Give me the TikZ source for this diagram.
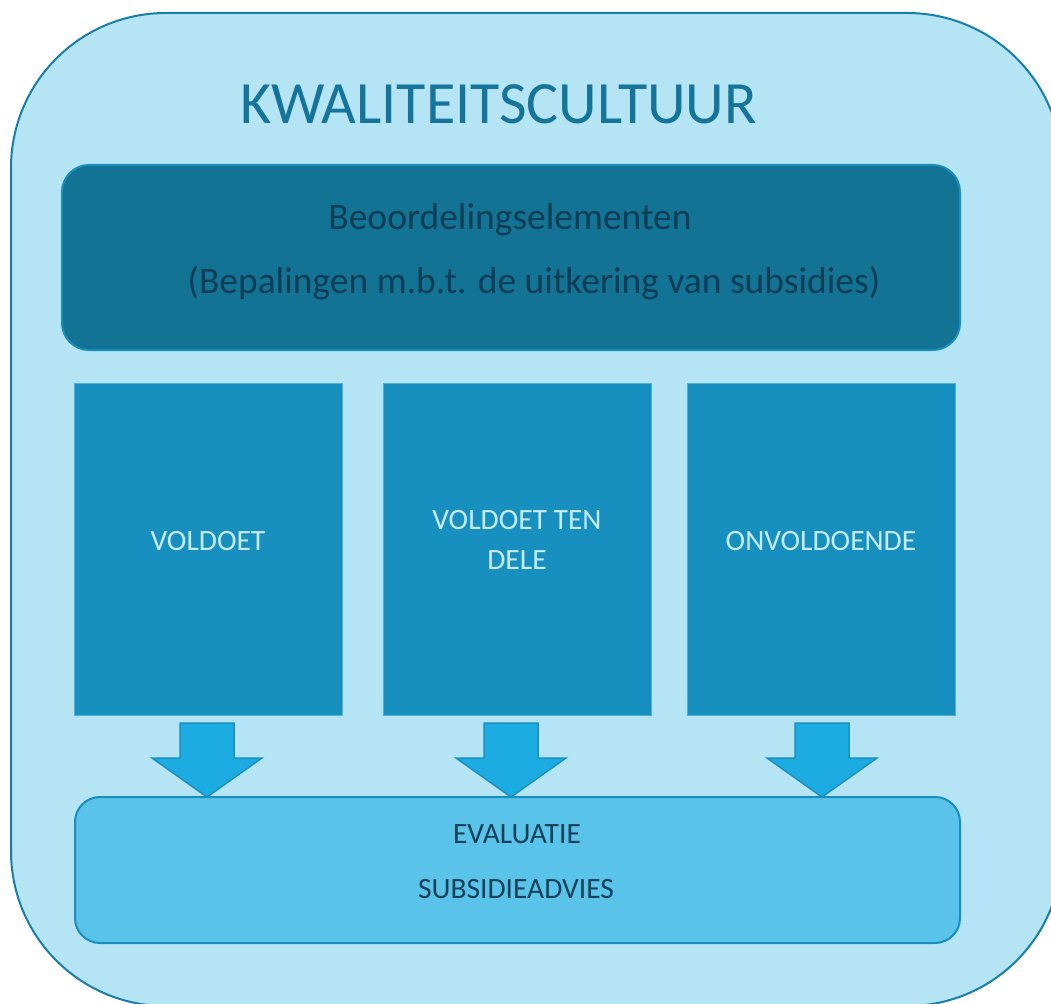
\documentclass[tikz,border=0pt]{standalone}
\usepackage{fontspec}
\setmainfont{Carlito}
\usetikzlibrary{calc}
\definecolor{outerfill}{HTML}{B5E4F5}
\definecolor{outerline}{HTML}{177FA7}
\definecolor{darkfill}{HTML}{137395}
\definecolor{darkline}{HTML}{1C8CBB}
\definecolor{midfill}{HTML}{1890BF}
\definecolor{midline}{HTML}{4FB0D8}
\definecolor{arrfill}{HTML}{1DACE2}
\definecolor{arrline}{HTML}{1890C0}
\definecolor{botfill}{HTML}{5AC3EA}
\definecolor{botline}{HTML}{1A8DBC}
\definecolor{titlecol}{HTML}{15749A}
\definecolor{darktext}{HTML}{0F3D55}
\definecolor{evaltext}{HTML}{17405A}
\definecolor{lighttext}{HTML}{C5EAF8}
\tikzset{
  colbox/.style={draw=midline, line width=1pt, fill=midfill, inner sep=0pt, minimum width=268pt, minimum height=332pt},
  coltext/.style={text=lighttext, font=\fontsize{29.5}{40}\selectfont, align=center, inner sep=0pt},
  evtext/.style={text=evaltext, font=\fontsize{29.5}{34}\selectfont, inner sep=0pt},
  beotext/.style={text=darktext, font=\fontsize{37.5}{40}\selectfont, inner sep=0pt},
  blockarrow/.style={draw=arrline, line width=1.5pt, fill=arrfill, line join=miter},
}
\begin{document}
\begin{tikzpicture}[x=1pt,y=-1pt]
\useasboundingbox (0,0) rectangle (1051,1003);
\clip (0,0) rectangle (1051,1003);
% outer container
\draw[draw=outerline, line width=2pt, fill=outerfill, rounded corners=155pt] (11,13) rectangle (1062,1006);
\node[text=titlecol, font=\fontsize{60}{70}\selectfont, inner sep=0pt] (title) at (499,104) {KWALITEITSCULTUUR};
% top dark box
\node[draw=darkline, line width=2pt, fill=darkfill, rounded corners=27pt, inner sep=0pt, minimum width=898pt, minimum height=185pt] (beo) at (511,257.5) {};
\node[beotext] (beo1) at (510,220) {Beoordelingselementen};
\node[beotext] (beo2) at (534,283) {(Bepalingen m.b.t. de uitkering van subsidies)};
% three columns
\node[colbox] (v) at (208,549) {};
\node[colbox] (vt) at (517,549) {};
\node[colbox] (o) at (821,549) {};
\node[coltext] (vtext) at (208,541) {VOLDOET};
\node[coltext] (vttext) at (517,540) {VOLDOET TEN\\DELE};
\node[coltext] (otext) at (821,541) {ONVOLDOENDE};
% bottom box
\node[draw=botline, line width=2pt, fill=botfill, rounded corners=25pt, inner sep=0pt, minimum width=885pt, minimum height=146pt] (ev) at (517.5,870) {};
\node[evtext] (ev1) at (517,834) {EVALUATIE};
\node[evtext] (ev2) at (516,889) {SUBSIDIEADVIES};
% block arrows
\foreach \n/\cx in {v/207, vt/511, o/822}{
  \draw[blockarrow] (\cx-27,723) -- (\cx+27,723) -- (\cx+27,758) -- (\cx+55,758) -- (\cx,797) -- (\cx-55,758) -- (\cx-27,758) -- cycle;
}
\end{tikzpicture}
\end{document}
